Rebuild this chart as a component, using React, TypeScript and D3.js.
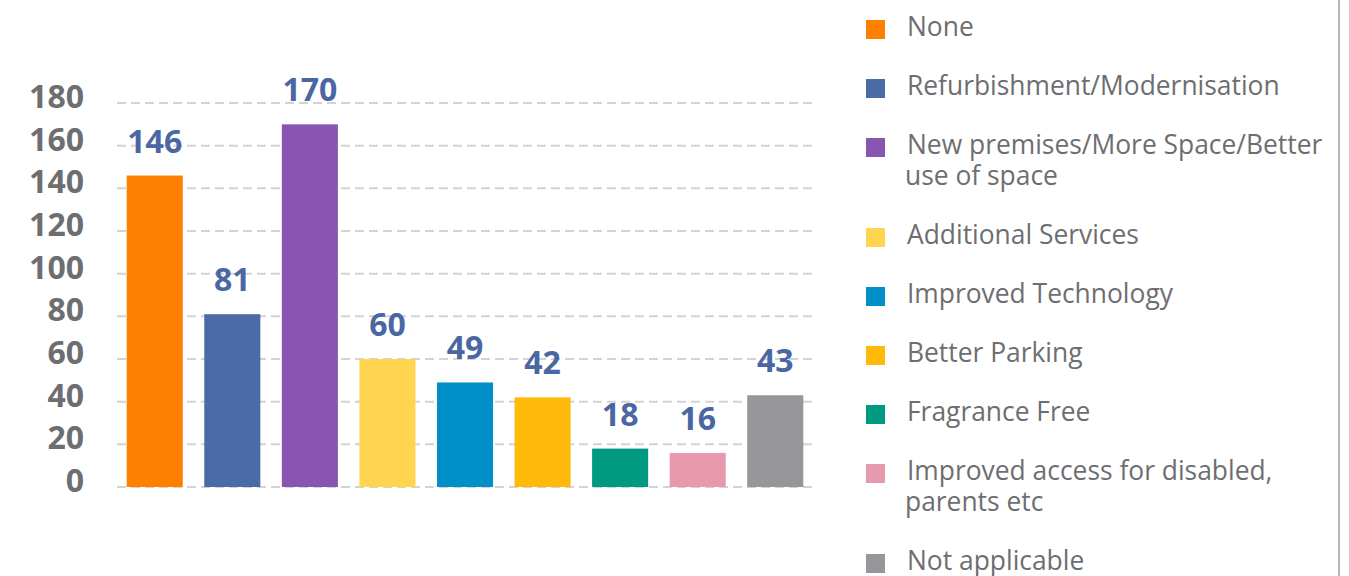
import * as d3 from 'd3';

const categories = [
  'None',
  'Refurbishment/Modernisation',
  'New premises/More Space/Better use of space',
  'Additional Services',
  'Improved Technology',
  'Better Parking',
  'Fragrance Free',
  'Improved access for disabled, parents etc',
  'Not applicable',
];

// legend text as it wraps in the picture
const legendLines = [
  ['None'],
  ['Refurbishment/Modernisation'],
  ['New premises/More Space/Better', 'use of space'],
  ['Additional Services'],
  ['Improved Technology'],
  ['Better Parking'],
  ['Fragrance Free'],
  ['Improved access for disabled,', 'parents etc'],
  ['Not applicable'],
];

const values = [146, 81, 170, 60, 49, 42, 18, 16, 43];

const colors = [
  '#ff7f00', '#4a6ba5', '#8856b0', '#ffd54f', '#008fc7',
  '#ffb908', '#009982', '#e799ad', '#97979b',
];

const yTicks = [0, 20, 40, 60, 80, 100, 120, 140, 160, 180];

const width = 1349;
const height = 576;
const font = '"Open Sans", sans-serif';

const App = () => {
  const x = d3.scaleBand<string>()
    .domain(categories)
    .range([116, 814])
    .paddingInner(0.277)
    .paddingOuter(0.138);

  const y = d3.scaleLinear().domain([0, 180]).range([487, 103]);

  // legend layout: baselines stacked, 59px between items, 31px between wrapped lines
  let base = 36;
  const legendItems = legendLines.map((lines, i) => {
    const item = { i, lines, y: base };
    base += (lines.length - 1) * 31 + 59;
    return item;
  });

  return (
    <svg
      width={width}
      height={height}
      style={{ position: 'absolute', left: 0, top: 0, background: '#fff' }}
      fontFamily={font}
    >
      {yTicks.map((t) => (
        <g key={t}>
          <line
            x1={117}
            x2={816}
            y1={y(t)}
            y2={y(t)}
            stroke="#d3d3d3"
            strokeWidth={2}
            strokeDasharray="9 5"
          />
          <text
            x={84}
            y={y(t) + 5}
            textAnchor="end"
            fontSize={32}
            fontWeight={700}
            fill="#6d6e71"
          >
            {t}
          </text>
        </g>
      ))}

      {categories.map((c, i) => (
        <g key={c}>
          <rect
            x={x(c)}
            y={y(values[i])}
            width={x.bandwidth()}
            height={y(0) - y(values[i])}
            fill={colors[i]}
          />
          <text
            x={(x(c) ?? 0) + x.bandwidth() / 2}
            y={y(values[i]) - 23}
            textAnchor="middle"
            fontSize={32}
            fontWeight={700}
            fill="#4a67a3"
          >
            {values[i]}
          </text>
        </g>
      ))}

      {legendItems.map((d) => (
        <g key={d.i}>
          <rect x={866} y={d.y - 16} width={19} height={19} fill={colors[d.i]} />
          {d.lines.map((l, j) => (
            <text
              key={j}
              x={j === 0 ? 907 : 905}
              y={d.y + j * 31}
              fontSize={26.4}
              fill="#6d6e71"
            >
              {l}
            </text>
          ))}
        </g>
      ))}

      <line x1={1339} x2={1339} y1={0} y2={height} stroke="#b5b5b5" strokeWidth={2} />
    </svg>
  );
};

export default App;
